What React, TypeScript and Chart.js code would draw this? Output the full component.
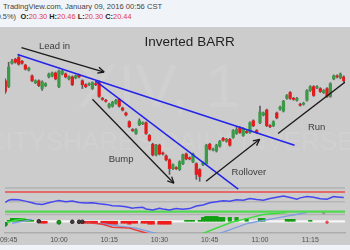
import React, { useEffect, useRef } from "react";
import { Chart, registerables } from "chart.js";

Chart.register(...registerables);

// ---- time axis (one candle per minute, index 0 = 09:44) ----
const timeTickIdx = [1, 16, 31, 46, 61, 76, 91];
const timeTickLabels = ["09:45", "10:00", "10:15", "10:30", "10:45", "11:00", "11:15"];

// ---- price candles ----
const candleOpen = [21.23,21.17,21.41,21.45,21.47,21.43,21.39,21.34,21.28,21.21,
21.23,21.15,21.18,21.27,21.28,21.31,21.17,21.30,21.30,21.25,
21.27,21.26,21.29,21.23,21.19,21.19,21.15,21.20,21.21,21.05,
21.03,20.96,20.97,21.00,21.04,20.95,20.90,20.81,20.73,20.69,
20.78,20.79,20.80,20.67,20.58,20.47,20.57,20.49,20.46,20.42,
20.33,20.34,20.32,20.38,20.48,20.44,20.40,20.38,20.32,20.37,
20.38,20.58,20.52,20.51,20.56,20.64,20.61,20.63,20.65,20.69,
20.75,20.67,20.71,20.70,20.82,20.72,20.80,20.88,20.93,20.77,
20.77,20.90,20.94,20.92,21.05,21.11,21.05,21.03,20.99,20.99,
21.03,21.13,21.17,21.16,21.15,21.11,21.15,21.07,21.25,21.28,
21.26,21.27];
const candleHigh = [21.25,21.42,21.45,21.46,21.50,21.44,21.40,21.37,21.29,21.24,
21.24,21.23,21.21,21.31,21.32,21.32,21.34,21.34,21.31,21.28,
21.28,21.29,21.30,21.24,21.20,21.21,21.22,21.22,21.23,21.06,
21.04,21.00,21.02,21.04,21.05,20.96,20.91,20.82,20.74,20.74,
20.84,20.81,20.81,20.68,20.59,20.58,20.58,20.50,20.47,20.43,
20.38,20.35,20.41,20.48,20.49,20.45,20.49,20.39,20.33,20.40,
20.58,20.59,20.54,20.58,20.62,20.65,20.64,20.64,20.73,20.76,
20.76,20.75,20.72,20.81,20.83,20.73,20.97,20.91,20.94,20.78,
20.82,20.91,20.97,21.03,21.09,21.12,21.06,21.06,21.00,21.01,
21.14,21.18,21.18,21.18,21.16,21.14,21.16,21.21,21.29,21.29,
21.31,21.28];
const candleLow = [21.10,21.16,21.40,21.41,21.39,21.40,21.34,21.33,21.22,21.20,
21.17,21.13,21.17,21.26,21.27,21.24,21.16,21.29,21.26,21.24,
21.18,21.25,21.26,21.15,21.16,21.18,21.14,21.18,21.06,21.03,
21.01,20.95,20.96,20.99,20.96,20.92,20.87,20.75,20.71,20.68,
20.77,20.78,20.68,20.61,20.46,20.46,20.47,20.47,20.41,20.27,
20.32,20.32,20.31,20.37,20.42,20.42,20.39,20.22,20.20,20.36,
20.37,20.52,20.51,20.50,20.55,20.61,20.60,20.56,20.64,20.68,
20.69,20.66,20.69,20.69,20.76,20.69,20.79,20.87,20.76,20.75,
20.76,20.84,20.93,20.91,21.04,21.04,21.03,21.02,20.97,20.98,
21.02,21.12,21.07,21.15,21.11,21.10,21.06,21.06,21.24,21.26,
21.25,21.22];
const candleClose = [21.12,21.37,21.43,21.42,21.40,21.41,21.35,21.36,21.23,21.23,
21.18,21.22,21.20,21.30,21.31,21.25,21.33,21.33,21.27,21.27,
21.19,21.28,21.27,21.19,21.17,21.20,21.21,21.19,21.07,21.04,
21.02,20.99,21.01,21.03,20.97,20.93,20.88,20.76,20.72,20.73,
20.82,20.80,20.69,20.62,20.47,20.57,20.48,20.48,20.42,20.33,
20.37,20.33,20.40,20.47,20.43,20.43,20.48,20.27,20.25,20.39,
20.57,20.53,20.53,20.57,20.61,20.62,20.63,20.57,20.72,20.73,
20.70,20.74,20.70,20.80,20.77,20.70,20.91,20.90,20.77,20.76,
20.81,20.85,20.96,21.02,21.08,21.05,21.04,21.05,20.98,21.00,
21.13,21.17,21.08,21.17,21.12,21.13,21.07,21.20,21.28,21.27,
21.30,21.23];

// ---- drawn trend lines / arrows (index, price) ----
const blueLine1X = [3.68, 86.3];
const blueLine1Y = [21.5, 20.57];
const blueLine2X = [26.9, 69.5];
const blueLine2Y = [21.23, 20.12];
const leadInX = [4.84, 29.5];
const leadInY = [21.57, 21.32];
const bumpX = [26.0, 50.3];
const bumpY = [21.04, 20.18];
const rolloverX = [59.9, 75.9];
const rolloverY = [20.2, 20.63];
const runX = [81.4, 101.9];
const runY = [20.69, 21.23];

const noteText = ["Lead in", "Bump", "Rollover", "Run"];
const noteX = [14.7, 34.55, 72.67, 92.9];
const noteY = [21.58, 20.425, 20.29, 20.75];
const titleText = "Inverted BARR";
const titleX = 55.0;
const titleY = 21.62;
const watermarkBig = "XIV, 1";
const watermarkSmall = "VELOCITYSHARES DAILY INVERSE VIX ST";

// ---- oscillator panel ----
const oscIdx = [0,1,2,4,6,8,9,11,13,15,16,18,20,22,24,26,28,30,32,34,36,38,39,41,42,44,46,47,49,51,53,55,57,59,61,63,65,67,69,71,73,75,77,79,81,83,85,87,88,90,92,94,96,98,99,101];
const oscVal = [48,55,57,56,52,47,44,42,47,52,54,50,52,48,46,47,44,42,38,37,35,30,32,33,28,25,30,28,25,29,27,29,37,40,47,50,53,52,56,55,60,57,55,60,64,68,63,58,62,66,64,59,58,66,65,63];
const oscUpper = 80;
const oscMiddle = 50;
const oscLower = 20;

// ---- lower histogram panel ----
const histVal = [0,1,3,3,3,3,2,2,1,0,
-1,-2,-2,0,0,0,0,0,0,0,
0,0,0,-2,-2,-2,-2,-2,0,-3,
-3,-3,-3,-3,0,-2,-2,-3,-2,-2,
0,-2,-2,-3,-3,0,-3,-3,-3,-3,
0,0,0,0,1,1,1,0,1,4,
5,5,5,5,4,4,0,4,0,4,
0,0,3,0,0,0,3,3,0,0,
0,0,0,0,2,2,2,0,0,0,
0,1,0,0,0,0,0,0,0,0,
0,0];
const redLineIdx = [24, 29, 32, 37, 41, 43];
const redLineVal = [-1, -3, -6, -7, -11, -13];
const blueLineIdx = [2, 5, 8, 9, 28, 34, 39, 43.5, 46, 47, 63.5, 72.5, 82, 90];
const blueLineVal = [-2, 0, 2, null, -2, -5, -7, -11, -13, null, -13, -2, 4, 9];
const greenLineIdx = [0, 3, 6, 7, 58.5, 67.5, 73.5, 77, 84];
const greenLineVal = [-2, 1, 3, null, -13, -1, 4, 7, 9];
const darkDotIdx = [10, 20, 22, 23];
const darkDotVal = [0, -0.5, -0.5, -0.5];
const greenDotIdx = [0, 16];
const greenDotVal = [-3, -1];
const greyDotIdx = [95];
const greyDotVal = [9];
const redDotIdx = [96];
const redDotVal = [-1];

// ---- panel boundaries (value on the panel's own scale) ----
const mainBottom = 20.13;
const oscBottom = 7;

const X_MIN = -0.087;
const X_MAX = 101.362;
const FONT = '"Liberation Sans", Arial, sans-serif';
const GREEN = "#3a9a48";
const RED = "#e31b1b";

const pts = (xs: number[], ys: any[]) => xs.map((x, i) => ({ x, y: ys[i] }));
const hline = (v: number) => [{ x: X_MIN - 2, y: v }, { x: X_MAX + 2, y: v }];

const annotationPlugin = {
  id: "annotations",
  beforeDatasetsDraw(chart: any) {
    const { ctx } = chart;
    ctx.save();
    ctx.fillStyle = "rgba(255,255,255,0.08)";
    ctx.textBaseline = "alphabetic";
    ctx.textAlign = "left";
    ctx.font = `62px ${FONT}`;
    ctx.fillText(watermarkBig, 77, 80);
    ctx.font = `26px ${FONT}`;
    const pre = ctx.measureText("VELOCITYSHARES ").width;
    ctx.fillText(watermarkSmall, 160 - pre, 123);
    ctx.restore();
  },
  afterDatasetsDraw(chart: any) {
    const { ctx } = chart;
    const xs = chart.scales.x;
    const ys = chart.scales.y;
    ctx.save();
    chart.data.datasets.forEach((ds: any, di: number) => {
      if (!ds.isArrow) return;
      const d = chart.getDatasetMeta(di).data;
      const a = d[d.length - 2];
      const b = d[d.length - 1];
      const ang = Math.atan2(b.y - a.y, b.x - a.x);
      ctx.strokeStyle = ds.borderColor;
      ctx.lineWidth = 1.3;
      ctx.beginPath();
      for (const s of [-1, 1]) {
        ctx.moveTo(b.x, b.y);
        ctx.lineTo(b.x - 7 * Math.cos(ang + s * 0.45), b.y - 7 * Math.sin(ang + s * 0.45));
      }
      ctx.stroke();
    });
    ctx.textAlign = "center";
    ctx.textBaseline = "middle";
    ctx.fillStyle = "#3c3c3c";
    ctx.font = `9.5px ${FONT}`;
    noteText.forEach((t, i) => {
      ctx.fillText(t, xs.getPixelForValue(noteX[i]), ys.getPixelForValue(noteY[i]));
    });
    ctx.fillStyle = "#1e1e1e";
    ctx.font = `13.5px ${FONT}`;
    ctx.fillText(titleText, xs.getPixelForValue(titleX), ys.getPixelForValue(titleY));
    ctx.restore();
  },
};

function line(data: any[], color: string, width: number, axis: string, order: number, extra: any = {}) {
  return {
    type: "line",
    data,
    borderColor: color,
    borderWidth: width,
    pointRadius: 0,
    tension: 0,
    fill: false,
    yAxisID: axis,
    order,
    ...extra,
  };
}

function dots(xs: number[], ys: number[], color: string, border: string, r: number, order: number) {
  return {
    type: "line",
    data: pts(xs, ys),
    showLine: false,
    pointRadius: r,
    pointBackgroundColor: color,
    pointBorderColor: border,
    pointBorderWidth: 1,
    yAxisID: "y3",
    order,
  };
}

export default function App() {
  const ref = useRef<HTMLCanvasElement | null>(null);

  useEffect(() => {
    document.body.style.margin = "0";
    const canvas = ref.current;
    if (!canvas) return;

    const bodyColors = candleOpen.map((o, i) => (candleClose[i] >= o ? GREEN : RED));
    const bodies = candleOpen.map((o, i) => ({ x: i, y: [Math.min(o, candleClose[i]), Math.max(o, candleClose[i])] }));
    const wicks = candleOpen.map((_, i) => ({ x: i, y: [candleLow[i], candleHigh[i]] }));
    const hist = histVal
      .map((v, i) => ({ x: i, y: v }))
      .filter((p) => p.y !== 0);
    const histColors = hist.map((p) => (p.y > 0 ? "#129e12" : "#ef1c1c"));

    const chart = new Chart(canvas, {
      type: "bar",
      data: {
        datasets: [
          line(pts(leadInX, leadInY), "#1a1a1a", 1.3, "y", 0, { isArrow: true }),
          line(pts(bumpX, bumpY), "#1a1a1a", 1.3, "y", 0, { isArrow: true }),
          line(pts(rolloverX, rolloverY), "#1a1a1a", 1.3, "y", 0, { isArrow: true }),
          line(pts(runX, runY), "#1a1a1a", 1.3, "y", 0),
          line(pts(blueLine1X, blueLine1Y), "#2323ea", 1.5, "y", 1),
          line(pts(blueLine2X, blueLine2Y), "#2323ea", 1.5, "y", 1),
          {
            type: "bar",
            data: bodies,
            backgroundColor: bodyColors,
            barThickness: 2.6,
            minBarLength: 1,
            grouped: false,
            yAxisID: "y",
            order: 2,
          },
          {
            type: "bar",
            data: wicks,
            backgroundColor: "#5e5e5e",
            barThickness: 1,
            grouped: false,
            yAxisID: "y",
            order: 3,
          },
          line(pts(oscIdx, oscVal), "#4646ee", 1.5, "y2", 4),
          line(hline(oscUpper), "#ec4a4a", 1.5, "y2", 5),
          line(hline(oscMiddle), "#b6b6b6", 1.5, "y2", 5),
          line(hline(oscLower), "#52d852", 2.2, "y2", 5),
          dots(darkDotIdx, darkDotVal, "#4a3a3a", "#222222", 1.8, 6),
          dots(greenDotIdx, greenDotVal, "#1a9a1a", "#127a12", 2, 6),
          dots(greyDotIdx, greyDotVal, "#999999", "#888888", 1.3, 6),
          dots(redDotIdx, redDotVal, "#e05050", "#e05050", 1.3, 6),
          line(pts(redLineIdx, redLineVal), "#e53b3b", 1.5, "y3", 7),
          line(pts(blueLineIdx, blueLineVal), "#7f9de2", 1.3, "y3", 7),
          line(pts(greenLineIdx, greenLineVal), "#3fdc3f", 1.5, "y3", 7),
          {
            type: "bar",
            data: hist,
            backgroundColor: histColors,
            barThickness: 3.45,
            grouped: false,
            yAxisID: "y3",
            order: 8,
          },
          line(hline(0), "#f6f6f6", 2.2, "y3", 9),
          line(hline(mainBottom), "#b2b2b2", 1.5, "y", 10),
          line(hline(oscBottom), "#b2b2b2", 1.5, "y3", 10),
        ] as any,
      },
      options: {
        responsive: false,
        animation: false,
        devicePixelRatio: 1,
        events: [],
        layout: { padding: 0 },
        plugins: {
          legend: { display: false },
          tooltip: { enabled: false },
          title: { display: false },
        },
        scales: {
          x: {
            type: "linear",
            min: X_MIN,
            max: X_MAX,
            offset: false,
            grid: { display: false, drawTicks: false },
            border: { display: true, color: "#adadad", width: 1.5 },
            ticks: {
              color: "#505050",
              font: { size: 7, family: FONT },
              padding: 3,
              maxRotation: 0,
              autoSkip: false,
              callback: (v: any) => {
                const k = timeTickIdx.indexOf(Number(v));
                return k >= 0 ? timeTickLabels[k] : "";
              },
            },
            afterBuildTicks: (axis: any) => {
              axis.ticks = timeTickIdx.map((v) => ({ value: v }));
            },
            afterFit: (axis: any) => {
              axis.height = 12;
              axis.paddingLeft = 0;
              axis.paddingRight = 0;
            },
          },
          y: { type: "linear", display: false, min: 19.67, max: 21.73 },
          y2: { type: "linear", display: false, min: -46, max: 572 },
          y3: { type: "linear", display: false, min: -12, max: 194 },
        },
      } as any,
      plugins: [annotationPlugin],
    });
    return () => chart.destroy();
  }, []);

  return (
    <div
      style={{
        position: "relative",
        width: 350,
        height: 250,
        overflow: "hidden",
        background: "#f0f3f7",
        fontFamily: FONT,
      }}
    >
      <div
        style={{
          position: "absolute",
          left: 3,
          top: 2,
          fontSize: 7.6,
          lineHeight: "10px",
          color: "#444",
          whiteSpace: "nowrap",
        }}
      >
        TradingView.com, January 09, 2016 00:56 CST
      </div>
      <div
        style={{
          position: "absolute",
          right: 334,
          top: 12,
          fontSize: 7.4,
          lineHeight: "10px",
          color: "#444",
          whiteSpace: "nowrap",
        }}
      >
        (0.5%)
      </div>
      <div
        style={{
          position: "absolute",
          left: 20.5,
          top: 12,
          fontSize: 7.4,
          lineHeight: "10px",
          whiteSpace: "nowrap",
          color: "#e03c3c",
        }}
      >
        <b style={{ color: "#222" }}>O:</b>20.30 <b style={{ color: "#222" }}>H:</b>20.46{" "}
        <b style={{ color: "#222" }}>L:</b>20.30 <b style={{ color: "#222" }}>C:</b>20.44
      </div>
      <div
        style={{
          position: "absolute",
          left: 0,
          top: 27,
          width: 350,
          height: 218,
          background: "#cccccc",
        }}
      >
        <canvas ref={ref} width={350} height={218} style={{ display: "block" }} />
      </div>
    </div>
  );
}
